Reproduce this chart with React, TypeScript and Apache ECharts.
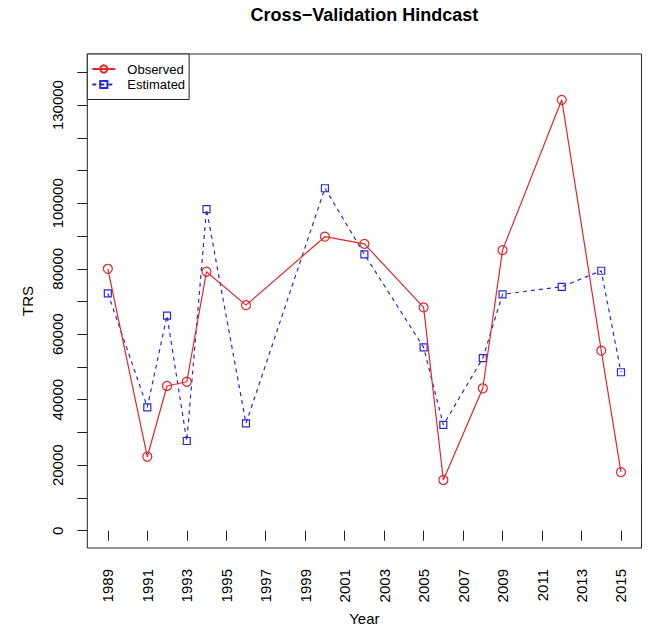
import React, { useEffect, useRef } from "react";
import * as echarts from "echarts";

const years = [1989, 1991, 1992, 1993, 1994, 1996, 2000, 2002, 2005, 2006, 2008, 2009, 2012, 2014, 2015];
const observed = [80000, 22600, 44200, 45500, 79100, 68900, 89800, 87600, 68200, 15500, 43500, 85700, 131600, 55000, 17900];
const estimated = [72500, 37700, 65700, 27400, 98200, 32800, 104600, 84400, 56000, 32300, 52700, 72200, 74500, 79400, 48400];
const xTickLabels = [1989, 1991, 1993, 1995, 1997, 1999, 2001, 2003, 2005, 2007, 2009, 2011, 2013, 2015];
const yTicks = [0, 10000, 20000, 30000, 40000, 50000, 60000, 70000, 80000, 90000, 100000, 110000, 120000, 130000, 140000];
const yTickLabels = [0, 20000, 40000, 60000, 80000, 100000, 130000];

const FONT = "'Liberation Sans', Arial, sans-serif";
const RED = "#e3262b";
const BLUE = "#2a2ad6";

export default function App() {
  const ref = useRef<HTMLDivElement>(null);
  useEffect(() => {
    if (!ref.current) return;
    const chart = echarts.init(ref.current, null, { renderer: "svg" });
    const obsData = years.map((y, i) => [y, observed[i]]);
    const estData = years.map((y, i) => [y, estimated[i]]);
    chart.setOption({
      animation: false,
      backgroundColor: "#ffffff",
      textStyle: { fontFamily: FONT },
      title: {
        text: "Cross\u2212Validation Hindcast",
        left: 364.4,
        top: 6,
        padding: 0,
        textAlign: "center",
        textStyle: { fontFamily: FONT, fontSize: 18, fontWeight: "bold", color: "#000" },
      },
      grid: {
        left: 87.3,
        right: 6.5,
        top: 54,
        bottom: 84,
        show: true,
        borderColor: "#222",
        borderWidth: 1,
        backgroundColor: "transparent",
        containLabel: false,
      },
      legend: {
        orient: "vertical",
        left: 87.3,
        top: 54,
        padding: [8, 4, 8, 4],
        itemGap: 1.5,
        itemWidth: 23,
        itemHeight: 9,
        borderColor: "#222",
        borderWidth: 1,
        borderRadius: 0,
        backgroundColor: "#ffffff",
        z: 10,
        textStyle: { fontFamily: FONT, fontSize: 13, color: "#000", lineHeight: 14, padding: [0, 0, 0, 7] },
        data: ["Observed", "Estimated"],
      },
      xAxis: {
        type: "value",
        min: 1987.96,
        max: 2016.04,
        axisLine: { show: false },
        splitLine: { show: false },
        axisTick: { show: true, length: 10, customValues: xTickLabels, lineStyle: { color: "#222" } },
        axisLabel: {
          customValues: xTickLabels,
          rotate: 90,
          margin: 21,
          fontSize: 15,
          color: "#000",
          fontFamily: FONT,
          formatter: (v: number) => String(v),
        },
      },
      yAxis: {
        type: "value",
        min: -5280,
        max: 145600,
        axisLine: { show: false },
        splitLine: { show: false },
        axisTick: { show: true, length: 10, customValues: yTicks, lineStyle: { color: "#222" } },
        axisLabel: {
          customValues: yTickLabels,
          rotate: 90,
          margin: 22,
          fontSize: 15,
          color: "#000",
          fontFamily: FONT,
          formatter: (v: number) => String(v),
        },
      },
      graphic: [
        {
          type: "text",
          x: 364.4,
          y: 618,
          style: { text: "Year", fontFamily: FONT, fontSize: 15, fill: "#000", align: "center", verticalAlign: "middle" },
        },
        {
          type: "text",
          x: 27,
          y: 301,
          rotation: Math.PI / 2,
          style: { text: "TRS", fontFamily: FONT, fontSize: 15, fill: "#000", align: "center", verticalAlign: "middle" },
        },
      ],
      series: [
        {
          name: "Observed",
          type: "line",
          data: obsData,
          symbol: "circle",
          symbolSize: 9,
          showAllSymbol: true,
          lineStyle: { color: RED, width: 1.2, type: "solid" },
          itemStyle: { color: "rgba(255,255,255,0)", borderColor: RED, borderWidth: 1.2 },
          z: 3,
        },
        {
          name: "Estimated",
          type: "line",
          data: estData,
          symbol: "rect",
          symbolSize: 7,
          showAllSymbol: true,
          lineStyle: { color: BLUE, width: 1.2, type: [4, 4] },
          itemStyle: { color: "rgba(255,255,255,0)", borderColor: BLUE, borderWidth: 1.2 },
          z: 2,
        },
      ],
    });
    return () => chart.dispose();
  }, []);
  return <div ref={ref} style={{ position: "fixed", left: 0, top: 0, width: 648, height: 632 }} />;
}
